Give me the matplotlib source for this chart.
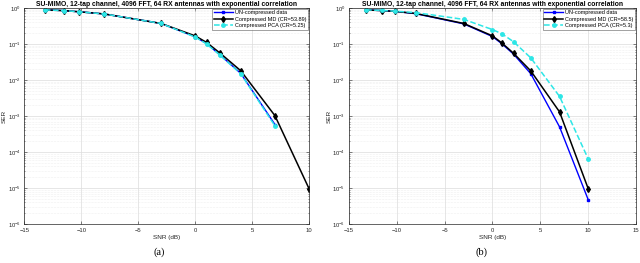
import matplotlib
matplotlib.use("Agg")
import matplotlib.pyplot as plt
from matplotlib.ticker import LogLocator, NullFormatter

plt.rcParams['font.family'] = ['Liberation Sans', 'DejaVu Sans']
plt.rcParams['mathtext.fontset'] = 'custom'
plt.rcParams['mathtext.rm'] = 'Liberation Sans'
plt.rcParams['mathtext.it'] = 'Liberation Sans'

title = "SU-MIMO, 12-tap channel, 4096 FFT, 64 RX antennas with exponential correlation"

# Panel (a)
snr_a = [-13.2, -11.5, -10.2, -8, -3, 0, 1, 2.2, 4, 7]
snr_a_md = [-13.2, -11.5, -10.2, -8, -3, 0, 1, 2.2, 4, 7, 10]
ser_a_unc = [0.88, 0.84, 0.78, 0.68, 0.37, 0.158, 0.102, 0.049, 0.0152, 5.8e-4]
ser_a_md = [0.88, 0.84, 0.78, 0.68, 0.37, 0.167, 0.11, 0.055, 0.018, 1.02e-3, 9.5e-6]
ser_a_pca = [0.88, 0.84, 0.78, 0.68, 0.37, 0.155, 0.10, 0.048, 0.0148, 5.3e-4]
labels_a = ["UN-compressed data", "Compressed MD (CR=53.89)", "Compressed PCA (CR=5.25)"]

# Panel (b)
snr_b = [-13.2, -11.5, -10.2, -8, -3, 0, 1, 2.2, 4, 7, 10]
ser_b_unc = [0.88, 0.84, 0.80, 0.69, 0.36, 0.16, 0.10, 0.052, 0.0149, 5.0e-4, 4.7e-6]
ser_b_md = [0.88, 0.84, 0.80, 0.70, 0.37, 0.167, 0.105, 0.055, 0.0178, 1.3e-3, 9.5e-6]
ser_b_pca = [0.88, 0.85, 0.81, 0.74, 0.48, 0.25, 0.19, 0.115, 0.041, 3.5e-3, 6.4e-5]
labels_b = ["UN-compressed data", "Compressed MD (CR=58.5)", "Compressed PCA (CR=5.3)"]

xticks = [-15, -10, -5, 0, 5, 10, 15]

fig = plt.figure(figsize=(6.4, 2.63), dpi=100)
cyan = "#2de6e6"
tickc = "#262626"

def setup(ax, xmax):
    ax.set_yscale("log")
    ax.set_ylim(1e-6, 1)
    ax.set_xlim(-15, xmax)
    ax.set_xticks([t for t in xticks if t <= xmax])
    ax.set_yticks([10.0**k for k in range(-6, 1)])
    ax.yaxis.set_minor_locator(LogLocator(base=10, subs=range(2, 10), numticks=20))
    ax.yaxis.set_minor_formatter(NullFormatter())
    ax.grid(True, which="major", color="#dcdcdc", lw=0.5)
    ax.grid(True, which="minor", axis="y", color="#e2e2e2", lw=0.4, ls=":")
    ax.tick_params(which="both", direction="in", labelsize=4.2, colors=tickc,
                   length=2, width=0.4, top=True, right=True, pad=2.5)
    ax.tick_params(which="minor", length=1)
    for s in ax.spines.values():
        s.set_linewidth(0.5)
        s.set_color(tickc)
    ax.set_title(title, fontsize=4.9, fontweight="bold", pad=1.2)
    ax.set_xlabel("SNR (dB)", fontsize=4.6, labelpad=2, color=tickc)
    ax.set_ylabel("SER", fontsize=4.6, labelpad=0.5, color=tickc)
    ax.set_axisbelow(True)

def draw(ax, xu, yu, xm, ym, xp, yp, labels):
    ax.plot(xu, yu, "-s", color="blue", lw=1.0, ms=1.8, label=labels[0])
    ax.plot(xm, ym, "-d", color="black", lw=1.1, ms=3.0, mfc="black", label=labels[1])
    ax.plot(xp, yp, "--o", color=cyan, lw=1.1, ms=2.5, mfc=cyan, mec=cyan, label=labels[2])
    leg = ax.legend(loc="upper right", fontsize=4.0, frameon=True, fancybox=False,
                    borderpad=0.3, labelspacing=0.25, handlelength=3.4, handletextpad=0.4,
                    borderaxespad=0.15)
    leg.get_frame().set_linewidth(0.4)
    leg.get_frame().set_edgecolor("#333333")

ax1 = fig.add_axes([0.038, 0.148, 0.445, 0.822])
setup(ax1, 10)
draw(ax1, snr_a, ser_a_unc, snr_a_md, ser_a_md, snr_a, ser_a_pca, labels_a)

ax2 = fig.add_axes([0.545, 0.148, 0.449, 0.822])
setup(ax2, 15)
draw(ax2, snr_b, ser_b_unc, snr_b, ser_b_md, snr_b, ser_b_pca, labels_b)

fig.text(0.249, 0.022, "(a)", fontsize=7.5, family=["Liberation Serif", "DejaVu Serif"], ha="center", va="bottom")
fig.text(0.752, 0.022, "(b)", fontsize=7.5, family=["Liberation Serif", "DejaVu Serif"], ha="center", va="bottom")

fig.savefig("out.png", dpi=100)
